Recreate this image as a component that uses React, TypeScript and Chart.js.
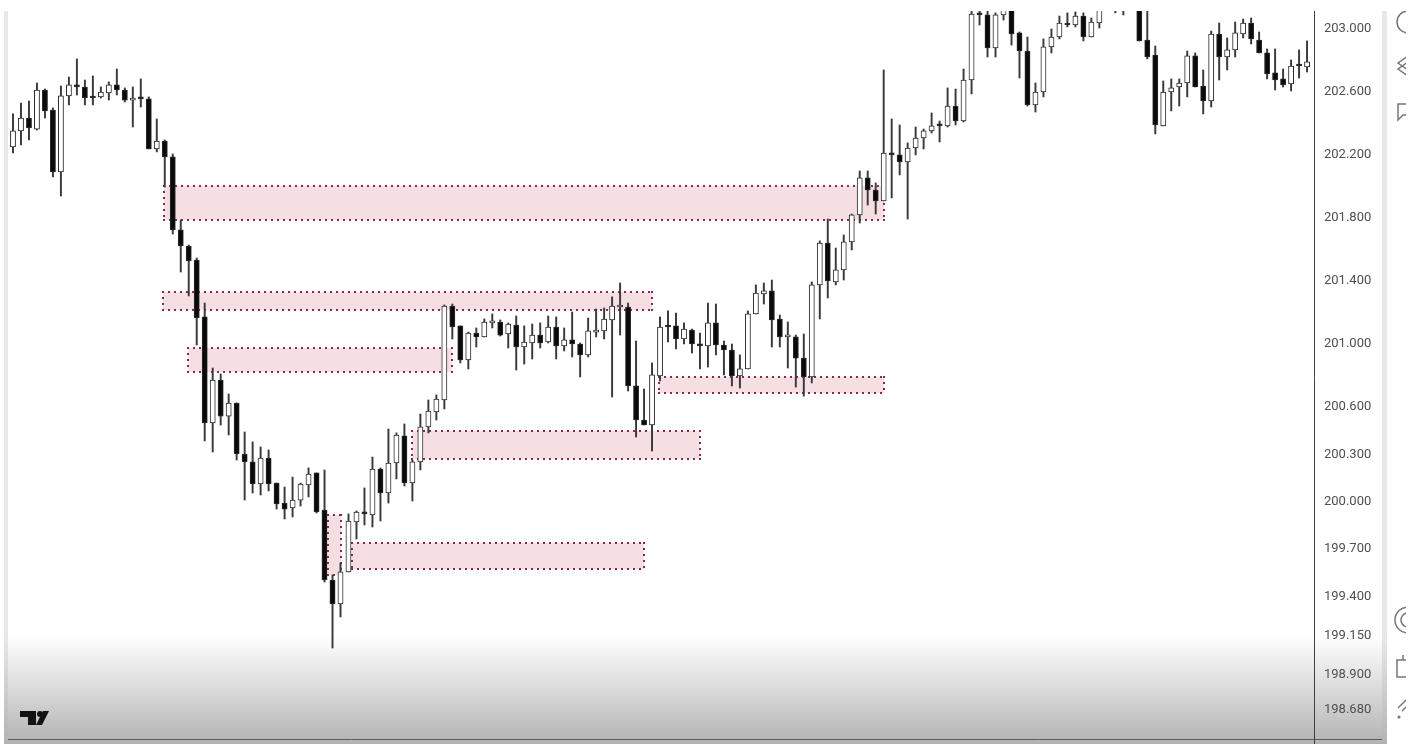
import React, { useEffect, useRef } from "react";
import { Chart, registerables } from "chart.js";

Chart.register(...registerables);

const highs = [
  202.461,202.530,202.543,202.657,202.619,202.499,202.638,202.695,202.810,202.676,
  202.702,202.632,202.664,202.746,202.626,202.632,202.683,202.569,202.429,202.296,
  202.207,201.788,201.629,201.547,201.261,200.849,200.811,200.684,200.627,200.443,
  200.380,200.348,200.329,200.119,200.094,200.157,200.119,200.215,200.183,200.202,
  199.536,199.612,199.923,199.942,200.088,200.284,200.215,200.462,200.437,200.494,
  200.265,200.557,200.646,200.678,201.249,201.255,201.116,201.077,201.103,201.160,
  201.192,201.154,201.135,201.179,201.116,201.128,201.135,201.179,201.173,201.103,
  201.204,201.008,201.166,201.223,201.230,201.300,201.388,201.261,201.020,200.716,
  200.881,201.173,201.211,201.198,201.135,201.096,201.071,201.261,201.255,201.020,
  201.001,200.932,201.211,201.376,201.388,201.407,201.185,201.141,201.058,201.065,
  201.395,201.655,201.794,201.610,201.693,201.826,202.099,202.099,202.023,202.740,
  202.429,202.391,202.277,202.378,202.365,202.467,202.416,202.626,202.619,202.746,
  203.133,203.133,203.133,203.102,203.171,203.171,202.981,202.949,202.657,202.937,
  203.000,203.082,203.102,203.108,203.102,203.070,203.171,203.247,203.247,203.247,
  203.247,203.171,203.171,202.892,202.670,202.683,202.683,202.860,202.848,202.740,
  202.987,203.038,202.943,203.044,203.063,203.070,202.981,202.873,202.873,202.746,
  202.803,202.867,202.924,
];

const lows = [
  202.213,202.264,202.296,202.359,202.435,202.061,201.940,202.518,202.581,202.518,
  202.518,202.562,202.549,202.581,202.537,202.378,202.505,202.239,202.220,201.997,
  201.699,201.458,201.306,200.995,200.386,200.316,200.487,200.424,200.265,200.011,
  200.056,200.043,200.069,199.954,199.891,199.904,199.973,200.031,199.929,199.491,
  199.072,199.269,199.555,199.764,199.853,199.840,199.878,199.992,200.145,200.100,
  200.005,200.202,200.437,200.519,200.589,201.033,200.881,200.843,200.982,201.046,
  201.103,201.052,200.976,200.836,200.874,200.906,200.976,201.008,200.906,200.957,
  200.919,200.792,200.919,201.046,201.033,200.665,201.058,200.703,200.411,200.487,
  200.322,200.767,201.014,200.970,201.001,200.944,200.843,200.855,200.932,200.805,
  200.735,200.722,200.843,201.192,201.255,200.982,200.982,200.849,200.728,200.671,
  200.754,201.160,201.293,201.376,201.407,201.598,201.769,201.883,201.826,201.909,
  201.928,202.074,201.794,202.201,202.239,202.340,202.283,202.378,202.391,202.410,
  202.588,203.025,202.822,202.822,203.057,202.898,202.689,202.511,202.473,202.569,
  202.848,202.937,203.013,203.013,202.924,202.949,203.006,203.127,203.102,203.089,
  203.152,202.924,202.810,202.334,202.385,202.480,202.511,202.569,202.632,202.461,
  202.505,202.676,202.740,202.822,202.943,202.905,202.848,202.683,202.613,202.632,
  202.607,202.689,202.727,
];

const opens = [
  202.251,202.353,202.435,202.365,202.613,202.486,202.093,202.575,202.645,202.632,
  202.569,202.569,202.594,202.645,202.613,202.549,202.562,202.556,202.239,202.289,
  202.188,201.725,201.623,201.534,201.173,200.500,200.773,200.544,200.627,200.303,
  200.253,200.113,200.278,200.119,199.992,199.961,200.011,200.107,200.183,199.948,
  199.504,199.352,199.555,199.872,199.929,199.916,200.208,200.056,200.246,200.418,
  200.119,200.253,200.475,200.570,200.646,201.242,201.116,200.900,201.071,201.046,
  201.135,201.141,201.065,201.122,200.982,201.008,201.058,201.014,201.109,200.989,
  201.027,201.001,200.932,201.077,201.084,201.154,201.236,201.236,200.735,200.519,
  200.487,200.798,201.122,201.116,201.033,201.090,201.001,200.989,201.135,200.995,
  200.963,200.798,200.843,201.192,201.319,201.338,201.160,201.046,201.046,200.912,
  200.792,201.376,201.642,201.395,201.471,201.649,201.820,202.055,201.978,201.909,
  202.213,202.201,202.156,202.245,202.308,202.353,202.391,202.385,202.511,202.416,
  202.676,203.095,203.089,202.879,203.089,203.152,202.975,202.860,202.518,202.600,
  202.886,202.949,203.038,203.025,203.082,202.949,203.038,203.160,203.235,203.210,
  203.230,203.152,202.930,202.835,202.385,202.600,202.632,202.657,202.829,202.638,
  202.543,202.968,202.822,202.867,202.968,203.038,202.930,202.848,202.721,202.683,
  202.651,202.772,202.759,
];

const closes = [
  202.353,202.435,202.372,202.613,202.480,202.093,202.575,202.645,202.632,202.562,
  202.562,202.600,202.645,202.613,202.549,202.562,202.556,202.239,202.289,202.188,
  201.725,201.623,201.528,201.166,200.500,200.773,200.544,200.627,200.303,200.253,
  200.113,200.278,200.113,199.986,199.954,200.011,200.113,200.176,199.935,199.504,
  199.352,199.555,199.878,199.935,199.923,200.208,200.056,200.246,200.424,200.119,
  200.253,200.475,200.576,200.652,201.242,201.109,200.900,201.071,201.046,201.141,
  201.141,201.058,201.128,200.982,201.014,201.058,201.008,201.109,200.989,201.027,
  201.001,200.932,201.084,201.084,201.160,201.242,201.242,200.735,200.519,200.487,
  200.805,201.109,201.109,201.033,201.096,201.001,200.989,201.135,200.995,200.963,
  200.798,200.843,201.192,201.325,201.338,201.154,201.046,201.052,200.912,200.792,
  201.376,201.642,201.401,201.471,201.649,201.820,202.055,201.978,201.909,202.213,
  202.201,202.156,202.245,202.308,202.353,202.385,202.385,202.511,202.416,202.676,
  203.095,203.089,202.879,203.089,203.152,202.968,202.860,202.518,202.600,202.886,
  202.949,203.038,203.025,203.082,202.949,203.044,203.152,203.235,203.160,203.160,
  203.170,202.924,202.822,202.391,202.600,202.626,202.657,202.829,202.632,202.543,
  202.968,202.822,202.867,202.975,203.038,202.937,202.848,202.714,202.676,202.645,
  202.765,202.765,202.791,
];

const priceTicks = [203, 202.6, 202.2, 201.8, 201.4, 201, 200.6, 200.3, 200, 199.7, 199.4, 199.15, 198.9, 198.68];

const zoneStart = [18.9, 18.8, 21.9, 50.0, 42.4, 39.4, 80.9];
const zoneEnd = [109.0, 80.0, 55.0, 86.0, 79.0, 41.1, 109.0];
const zoneTop = [202.004, 201.331, 200.976, 200.449, 199.739, 199.916, 200.792];
const zoneBottom = [201.788, 201.217, 200.824, 200.272, 199.574, 199.536, 200.690];

const overlay = {
  id: "overlay",
  beforeDraw(chart: any) {
    const c = chart.ctx;
    c.save();
    c.fillStyle = "#ffffff";
    c.fillRect(0, 0, 1416, 744);
    c.fillStyle = "#e8e8e8";
    c.fillRect(4, 11, 4, 733);
    c.fillRect(1382, 11, 5, 733);
    const g = c.createLinearGradient(0, 636, 0, 744);
    g.addColorStop(0, "rgba(181,181,181,0)");
    g.addColorStop(0.2, "rgba(181,181,181,0.2)");
    g.addColorStop(1, "rgba(178,178,178,1)");
    c.fillStyle = g;
    c.fillRect(4, 636, 1383, 108);
    c.restore();
  },
  beforeDatasetsDraw(chart: any) {
    const c = chart.ctx;
    const { x, y } = chart.scales;
    c.save();
    c.beginPath();
    c.rect(chart.chartArea.left, chart.chartArea.top, chart.chartArea.width, chart.chartArea.height);
    c.clip();
    zoneStart.forEach((s, i) => {
      const l = Math.round(x.getPixelForValue(s));
      const r = Math.round(x.getPixelForValue(zoneEnd[i]));
      const t = Math.round(y.getPixelForValue(zoneTop[i]));
      const b = Math.round(y.getPixelForValue(zoneBottom[i]));
      c.fillStyle = "#f5dfe2";
      c.fillRect(l, t, r - l, b - t);
      c.fillStyle = "#8e2748";
      // square dots, pixel-aligned, along each side
      for (let px = l; px <= r; px += 6) {
        c.fillRect(px - 1, t - 1, 2, 2);
        c.fillRect(px - 1, b - 1, 2, 2);
      }
      for (let py = t; py <= b; py += 6) {
        c.fillRect(l - 1, py - 1, 2, 2);
        c.fillRect(r - 1, py - 1, 2, 2);
      }
    });
    c.restore();
  },
  afterDraw(chart: any) {
    const c = chart.ctx;
    c.save();
    // bottom rule and price-scale rule
    c.strokeStyle = "#5c5c5c";
    c.lineWidth = 1;
    c.beginPath();
    c.moveTo(8, 739.5);
    c.lineTo(1382, 739.5);
    c.stroke();
    c.strokeStyle = "#3f3f3f";
    c.beginPath();
    c.moveTo(1314.5, 11);
    c.lineTo(1314.5, 744);
    c.stroke();
    // watermark
    c.fillStyle = "#131313";
    c.beginPath();
    c.moveTo(20, 711); c.lineTo(36, 711); c.lineTo(36, 725); c.lineTo(28, 725); c.lineTo(28, 717); c.lineTo(20, 717);
    c.closePath();
    c.fill();
    c.beginPath();
    c.arc(40, 714, 3, 0, Math.PI * 2);
    c.fill();
    c.beginPath();
    c.moveTo(49, 711); c.lineTo(42, 725); c.lineTo(36, 725); c.lineTo(43, 711);
    c.closePath();
    c.fill();
    // clipped toolbar glyphs
    c.beginPath();
    c.rect(1390, 11, 16, 733);
    c.clip();
    c.strokeStyle = "#777777";
    c.lineWidth = 1.5;
    const strokes: Array<() => void> = [
      () => { c.arc(1408, 22, 11, 0, Math.PI * 2); },
      () => { c.moveTo(1408, 56); c.lineTo(1398, 63); c.lineTo(1408, 70); c.moveTo(1408, 62); c.lineTo(1398, 69); c.lineTo(1408, 76); },
      () => { c.moveTo(1410, 104); c.lineTo(1398, 104); c.lineTo(1398, 120); c.lineTo(1403, 115); c.lineTo(1410, 115); },
      () => { c.arc(1408, 620, 13, 0, Math.PI * 2); },
      () => { c.moveTo(1412, 613); c.arc(1408, 620, 7, -1, Math.PI * 1.6, false); },
      () => { c.moveTo(1410, 660); c.lineTo(1397, 660); c.lineTo(1397, 677); c.lineTo(1410, 677); c.moveTo(1403, 655); c.lineTo(1403, 660); },
      () => { c.moveTo(1406, 700); c.lineTo(1398, 708); c.moveTo(1406, 707); c.lineTo(1402, 711); },
    ];
    strokes.forEach((s) => { c.beginPath(); s(); c.stroke(); });
    c.fillStyle = "#777777";
    c.beginPath();
    c.arc(1399, 717, 1.6, 0, Math.PI * 2);
    c.fill();
    c.restore();
  },
};

export default function App() {
  const ref = useRef<HTMLCanvasElement | null>(null);
  useEffect(() => {
    const chart = new Chart(ref.current as HTMLCanvasElement, {
      type: "bar",
      data: {
        datasets: [
          {
            label: "Body",
            order: 1,
            grouped: false,
            barThickness: 5.2,
            minBarLength: 2,
            data: opens.map((o, i) => ({ x: i, y: [o, closes[i]] })),
            backgroundColor: opens.map((o, i) => (closes[i] >= o ? "#ffffff" : "#0a0a0a")),
            borderColor: "#2b2b2b",
            borderWidth: 1,
            borderSkipped: false,
          },
          {
            label: "Wick",
            order: 2,
            grouped: false,
            barThickness: 1.3,
            data: highs.map((h, i) => ({ x: i, y: [lows[i], h] })),
            backgroundColor: "#3a3a3a",
            borderWidth: 0,
          },
        ] as any,
      },
      options: {
        responsive: false,
        animation: false,
        layout: { padding: { left: 9, top: 11, right: 0, bottom: 5 } },
        plugins: { legend: { display: false }, tooltip: { enabled: false } },
        scales: {
          x: { type: "linear", display: false, min: -0.5, max: 162.87, offset: false, grid: { display: false } },
          y: {
            type: "linear",
            position: "right",
            min: 198.495,
            max: 203.114,
            grid: { display: false, drawTicks: false },
            border: { display: false },
            afterBuildTicks: (s: any) => {
              s.ticks = priceTicks.map((value) => ({ value }));
            },
            afterFit: (s: any) => {
              s.width = 102;
              s.paddingTop = 0;
              s.paddingBottom = 0;
            },
            ticks: {
              autoSkip: false,
              padding: 10,
              color: "#4f4f4f",
              font: { family: "Roboto", size: 13 },
              callback: (v: any) => Number(v).toFixed(3),
            },
          },
        },
      } as any,
      plugins: [overlay],
    });
    return () => chart.destroy();
  }, []);
  return (
    <div style={{ position: "fixed", left: 0, top: 0, width: 1416, height: 744 }}>
      <canvas ref={ref} width={1416} height={744} style={{ display: "block", filter: "blur(0.4px)" }} />
    </div>
  );
}
